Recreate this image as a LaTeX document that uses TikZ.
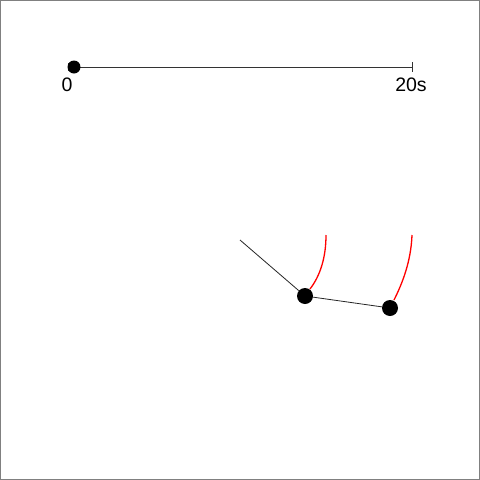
\documentclass[tikz,border=0pt]{standalone}
\usepackage{fontspec}
\setmainfont{Liberation Sans}
\begin{document}
\begin{tikzpicture}[x=1pt,y=-1pt,
  bob/.style={circle,fill=black,inner sep=0pt,minimum size=16pt},
  lbl/.style={inner sep=0pt,font=\fontsize{19.5}{19.5}\selectfont},
  trace/.style={red,line width=1.3pt}]
\draw[gray,line width=0.8pt,fill=white] (0.5,0.5) rectangle (479.5,479.5);
\useasboundingbox (0,0) rectangle (480,480);
% timeline
\coordinate (t0) at (68,67);
\coordinate (t1) at (412,67);
\draw[black!80,line width=0.7pt] (t0) -- (t1);
\draw[black!80,line width=0.7pt] (68,63) -- (68,71) (412,62) -- (412,72);
\node[circle,fill=black,inner sep=0pt,minimum size=13pt] (dot) at (74,67) {};
\node[lbl] (l0) at (67,85) {0};
\node[lbl] (l20) at (411,85) {20s};
% pendulum
\coordinate (pivot) at (240,240);
\node[bob] (b1) at (305,296) {};
\node[bob] (b2) at (390,308) {};
\draw[black!85,line width=0.8pt] (pivot) -- (b1) -- (b2);
\draw[trace] (326,235) .. controls (326,258) and (320,276) .. (310,289);
\draw[trace] (412,235) .. controls (411,262) and (402,284) .. (394,300);
\end{tikzpicture}
\end{document}
